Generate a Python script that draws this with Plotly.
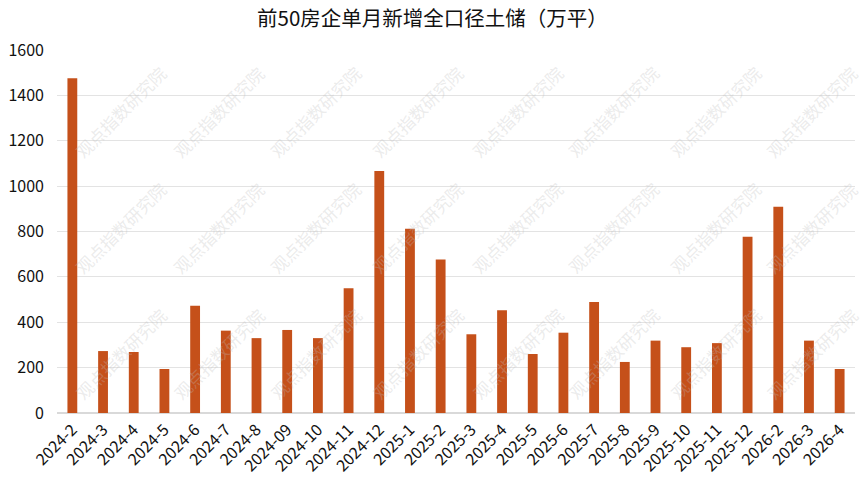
import plotly.graph_objects as go

months = ["2024-2", "2024-3", "2024-4", "2024-5", "2024-6", "2024-7", "2024-8", "2024-09",
          "2024-10", "2024-11", "2024-12", "2025-1", "2025-2", "2025-3", "2025-4", "2025-5",
          "2025-6", "2025-7", "2025-8", "2025-9", "2025-10", "2025-11", "2025-12", "2026-2",
          "2026-3", "2026-4"]
values = [1475, 273, 269, 194, 473, 363, 330, 366, 330, 550, 1067, 812, 677, 347, 453, 260,
          354, 489, 225, 319, 290, 308, 777, 909, 319, 194]
y_ticks = [0, 200, 400, 600, 800, 1000, 1200, 1400, 1600]
title_text = "前50房企单月新增全口径土储（万平）"
watermark = "观点指数研究院"

FONT = "Noto Sans CJK SC, Noto Sans, sans-serif"

fig = go.Figure()
fig.add_trace(go.Bar(x=months, y=values, marker=dict(color="#C5501A", line=dict(width=0)),
                     hoverinfo="x+y"))

# faint watermark grid
wm_cols = [0.08, 0.203, 0.324, 0.452, 0.577, 0.697, 0.825, 0.946]
wm_rows = [0.83, 0.51, 0.165]
for cx in wm_cols:
    for cy in wm_rows:
        fig.add_annotation(x=cx, y=cy, xref="paper", yref="paper", text=watermark,
                           xanchor="center", yanchor="middle",
                           showarrow=False, textangle=-45,
                           font=dict(family=FONT, size=17, color="rgba(190,190,190,0.3)"))

fig.update_layout(
    width=865, height=487,
    margin=dict(l=57, r=10, t=50, b=74),
    paper_bgcolor="white", plot_bgcolor="white",
    title=dict(text=title_text, x=0.5, xanchor="center", y=0.962, yanchor="middle",
               font=dict(family=FONT, size=20.5, color="#111111")),
    bargap=0.68,
    showlegend=False,
    font=dict(family=FONT, color="#111111"),
)
fig.update_xaxes(type="category", tickangle=-45, tickfont=dict(size=16, color="#111111"),
                 showline=True, linecolor="#D9D9D9", linewidth=1, ticks="", showgrid=False,
                 automargin=False)
fig.update_yaxes(range=[0, 1600], tickvals=y_ticks, tickfont=dict(size=16, color="#111111"),
                 showgrid=True, gridcolor="#E3E3E3", gridwidth=1, zeroline=True,
                 zerolinecolor="#D9D9D9", ticks="", showline=False, automargin=False,
                 ticklabelstandoff=12)

fig.write_html("out.html")
